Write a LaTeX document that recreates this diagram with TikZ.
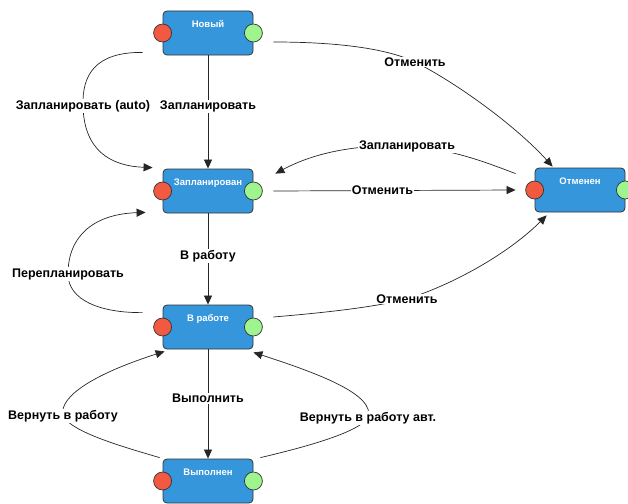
\documentclass[tikz,border=0pt]{standalone}
\usepackage{fontspec}
\setmainfont{Liberation Sans}
\usetikzlibrary{arrows.meta}
\definecolor{boxblue}{HTML}{3596DC}
\definecolor{portred}{HTML}{F15A40}
\definecolor{portgreen}{HTML}{9EF590}
\definecolor{edgegray}{HTML}{333333}
\begin{document}
\begin{tikzpicture}[x=1pt,y=-1pt,
  state/.style={draw=edgegray, fill=boxblue, rounded corners=4pt, minimum width=90pt,
    minimum height=44pt, inner sep=0pt, line width=0.8pt, text=white,
    font=\fontsize{9.5}{11}\selectfont\bfseries, text height=7pt, text depth=18pt},
  inport/.style={circle, draw=edgegray, fill=portred, minimum size=18pt, inner sep=0pt, line width=0.7pt},
  outport/.style={circle, draw=edgegray, fill=portgreen, minimum size=18pt, inner sep=0pt, line width=0.7pt},
  conn/.style={draw=black!85, line width=0.7pt, -{Triangle[length=9pt,width=8pt]}},
  lab/.style={fill=white, inner sep=1pt, text=black, font=\fontsize{12.5}{14}\selectfont\bfseries}
]
\useasboundingbox (0,0) rectangle (628,503);

% states
\node[state] (new)    at (208,33)  {Новый};
\node[state] (plan)   at (208,191) {Запланирован};
\node[state] (work)   at (208,327) {В работе};
\node[state] (done)   at (208,481) {Выполнен};
\node[state] (cancel) at (580,190) {Отменен};

% ports
\node[inport]  (newin)    at (new.west) {};
\node[outport] (newout)   at (new.east) {};
\node[inport]  (planin)   at (plan.west) {};
\node[outport] (planout)  at (plan.east) {};
\node[inport]  (workin)   at (work.west) {};
\node[outport] (workout)  at (work.east) {};
\node[inport]  (donein)   at (done.west) {};
\node[outport] (doneout)  at (done.east) {};
\node[inport]  (cancelin) at (cancel.west) {};
\node[outport] (cancelout) at (cancel.east) {};

% straight transitions
\draw[conn] (new.south) -- node[lab, pos=0.45] {Запланировать} (plan.north);
\draw[conn] (plan.south) -- node[lab, pos=0.47] {В работу} (work.north);
\draw[conn] (work.south) -- node[lab, pos=0.45] {Выполнить} (done.north);
\draw[conn] ([shift={(20,0)}]plan.east) -- node[lab, pos=0.45] {Отменить} ([shift={(-19,0)}]cancel.west);

% curved transitions
\draw[conn] ([shift={(-20,-3)}]new.south west)
  .. controls (95,52) and (82,75) .. (83,106) node[lab] {Запланировать (auto)}
  .. controls (84,150) and (110,166) .. ([shift={(-10,-1)}]plan.north west);

\draw[conn] ([shift={(20,9)}]new.east)
  .. controls (345,42) and (390,50) .. (415,62) node[lab] {Отменить}
  .. controls (455,82) and (515,125) .. ([shift={(18,-1)}]cancel.north west);

\draw[conn] ([shift={(-19,6)}]cancel.north west)
  .. controls (480,160) and (450,149) .. (407,146) node[lab] {Запланировать}
  .. controls (350,144) and (310,155) .. ([shift={(22,5)}]plan.north east);

\draw[conn] ([shift={(-20,8)}]work.north west)
  .. controls (100,313) and (68,300) .. (68,274) node[lab] {Перепланировать}
  .. controls (68,235) and (95,214) .. ([shift={(-17,-1)}]plan.south west);

\draw[conn] ([shift={(20,-10)}]work.east)
  .. controls (320,313) and (370,308) .. (407,299) node[lab] {Отменить}
  .. controls (460,282) and (512,250) .. ([shift={(12,3)}]cancel.south west);

\draw[conn] ([shift={(-3,-1)}]done.north west)
  .. controls (120,446) and (72,432) .. (63,416) node[lab] {Вернуть в работу}
  .. controls (58,395) and (100,372) .. ([shift={(2,2)}]work.south west);

\draw[conn] ([shift={(7,-1)}]done.north east)
  .. controls (310,446) and (358,432) .. (368,418) node[lab] {Вернуть в работу авт.}
  .. controls (376,395) and (320,374) .. ([shift={(0,3)}]work.south east);
\end{tikzpicture}
\end{document}
